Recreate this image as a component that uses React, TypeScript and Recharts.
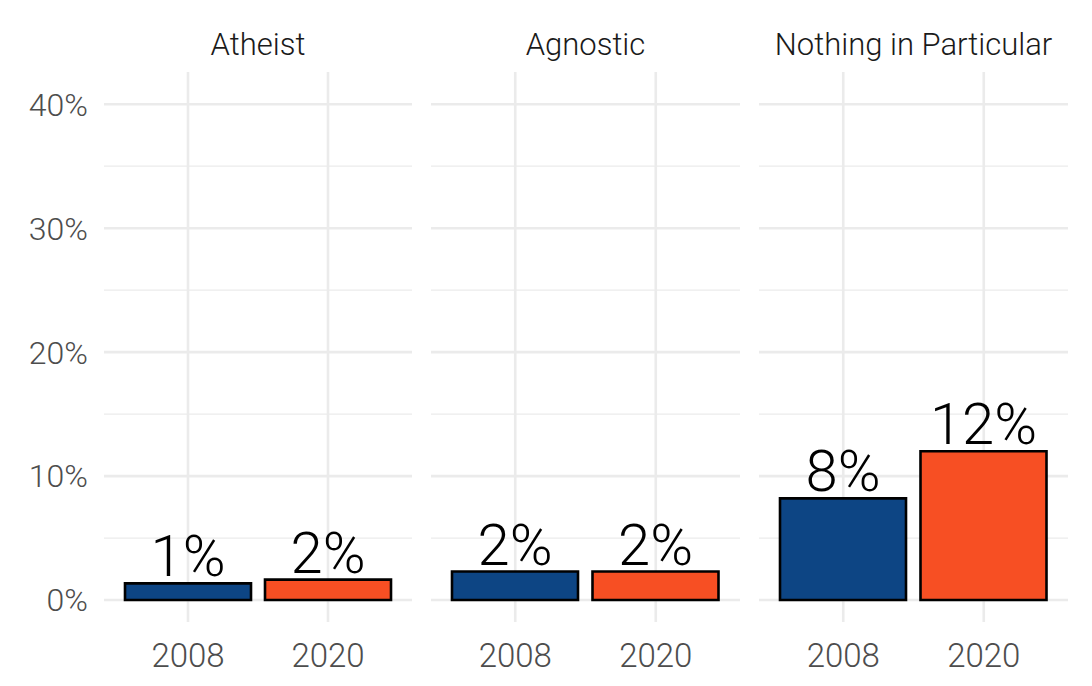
import { Bar, BarChart, CartesianGrid, Cell, LabelList, XAxis, YAxis } from "recharts";

const years = ["2008", "2020"];
const facets = ["Atheist", "Agnostic", "Nothing in Particular"];
const atheist = [1.35, 1.65];
const agnostic = [2.3, 2.3];
const nothing = [8.2, 12.0];
const yTicks = [0, 10, 20, 30, 40];
const minorTicks = [5, 15, 25, 35];

const barColors = ["#0d4584", "#f74f23"];
const FONT = "Roboto, 'DejaVu Sans Condensed', sans-serif";

const panels = [
  { title: facets[0], values: atheist, left: 0, width: 412, axis: true },
  { title: facets[1], values: agnostic, left: 431, width: 309, axis: false },
  { title: facets[2], values: nothing, left: 759, width: 309, axis: false },
];

function Panel({ values, width, axis }: { values: number[]; width: number; axis: boolean }) {
  const data = years.map((y, i) => ({ year: y, value: values[i] }));
  return (
    <BarChart
      width={width}
      height={686}
      data={data}
      margin={{ top: 72, right: 0, left: 0, bottom: 0 }}
      style={{ fontFamily: FONT }}
    >
      <CartesianGrid horizontalValues={minorTicks} vertical={false} syncWithTicks stroke="#ebebeb" strokeWidth={1.3} />
      <CartesianGrid syncWithTicks stroke="#ebebeb" strokeWidth={2.6} />
      <XAxis
        dataKey="year"
        height={64}
        padding={{ left: 14, right: 14 }}
        axisLine={false}
        tickLine={false}
        tickSize={0}
        tickMargin={22}
        tick={{ fontSize: 33, fill: "#4d4d4d", fontFamily: FONT, fontWeight: 300 }}
      />
      <YAxis
        hide={!axis}
        width={104}
        domain={[-1.77, 42.6]}
        allowDataOverflow
        ticks={yTicks}
        axisLine={false}
        tickLine={false}
        tickSize={0}
        tickMargin={16}
        tickFormatter={(v: number) => `${v}%`}
        tick={{ fontSize: 32, fill: "#4d4d4d", fontFamily: FONT, fontWeight: 300 }}
      />
      <Bar dataKey="value" barSize={126} stroke="#000" strokeWidth={2.6} isAnimationActive={false}>
        {data.map((d, i) => (
          <Cell key={d.year} fill={barColors[i]} />
        ))}
        <LabelList
          dataKey="value"
          position="top"
          offset={7}
          formatter={(v: number) => `${Math.round(v)}%`}
          style={{ fontSize: 58, fill: "#000", fontFamily: FONT, fontWeight: 300 }}
        />
      </Bar>
    </BarChart>
  );
}

export default function App() {
  return (
    <div style={{ position: "absolute", left: 0, top: 0, width: 1092, height: 686, background: "#fff" }}>
      {panels.map((p) => (
        <div key={p.title} style={{ position: "absolute", left: p.left, top: 0 }}>
          <Panel values={p.values} width={p.width} axis={p.axis} />
        </div>
      ))}
      <svg width={1092} height={686} style={{ position: "absolute", left: 0, top: 0, pointerEvents: "none" }}>
        {panels.map((p) => (
          <text
            key={p.title}
            x={p.axis ? 104 + (p.width - 104) / 2 : p.left + p.width / 2}
            y={55}
            textAnchor="middle"
            fontSize={31}
            fontWeight={300}
            fill="#1a1a1a"
            fontFamily={FONT}
          >
            {p.title}
          </text>
        ))}
      </svg>
    </div>
  );
}
